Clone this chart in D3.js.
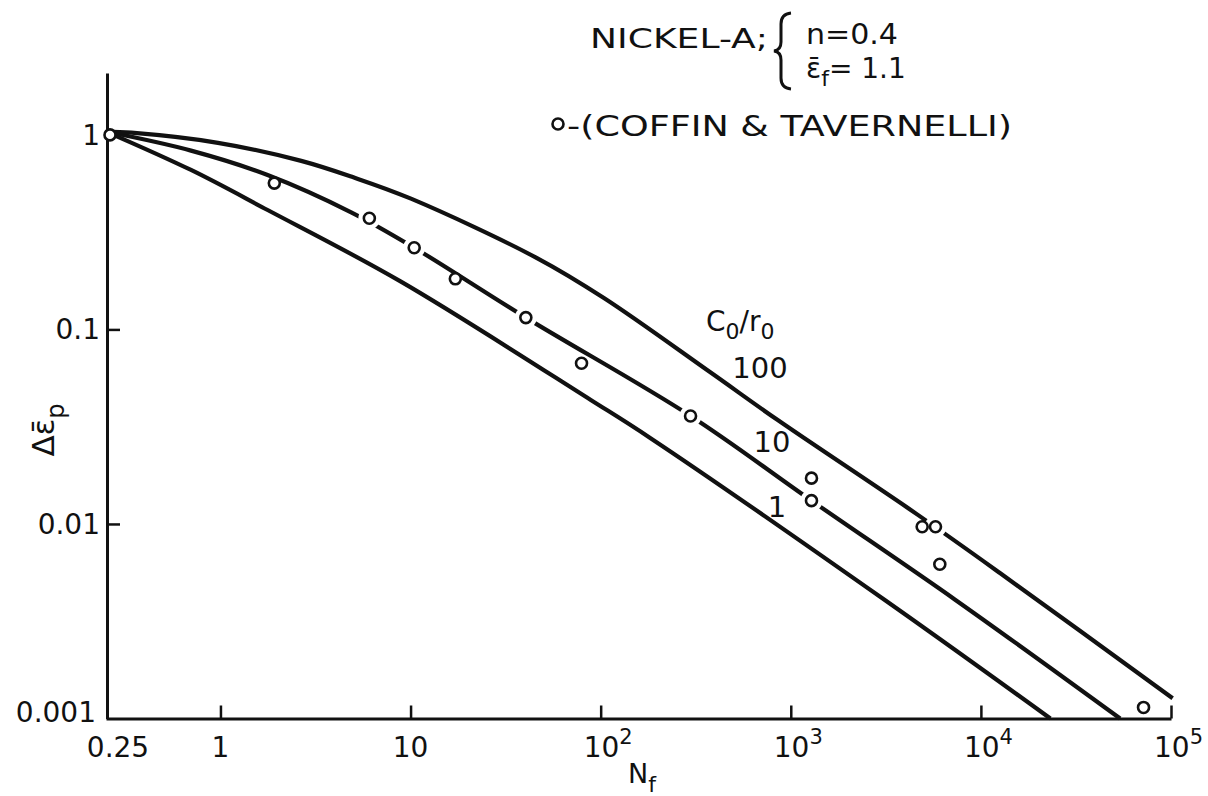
<!DOCTYPE html>
<html>
<head>
<meta charset="utf-8">
<script src="https://cdn.jsdelivr.net/npm/d3@7"></script>
<style>
  body { margin: 0; background: #fff; }
  text { font-family: "DejaVu Sans", sans-serif; fill: #111; }
</style>
</head>
<body>
<div id="chart"></div>
<script>
// chart values (N_f = cycles to failure, strain range)
var curve1N = [0.25, 0.70, 1.77, 8.9, 88.7, 183, 3083, 23200];
var curve1E = [1.04, 0.66, 0.411, 0.176, 0.0434, 0.0276, 0.0041, 0.001];

var curve10N = [0.25, 0.70, 1.77, 4.87, 10.45, 40.4, 297, 1285, 7350, 54000];
var curve10E = [1.04, 0.83, 0.622, 0.40, 0.263, 0.115, 0.0359, 0.01318, 0.00407, 0.001];

var curve100N = [0.25, 0.34, 0.97, 2.66, 5.0, 10.05, 46.5, 104, 379, 850, 4620, 12650, 102000];
var curve100E = [1.04, 1.026, 0.91, 0.735, 0.605, 0.47, 0.232, 0.145, 0.060, 0.0343, 0.0112, 0.00558, 0.00127];

var curveNames = ["1", "10", "100"];

// Coffin & Tavernelli test points
var dataN = [0.25, 1.92, 6.07, 10.45, 17.2, 40.4, 79.3, 297, 1285, 1285, 4910, 5770, 6080, 71700];
var dataE = [1.0, 0.565, 0.373, 0.263, 0.182, 0.115, 0.067, 0.0359, 0.0172, 0.01318, 0.00968, 0.00968, 0.00621, 0.00114];

var xTickValues = [0.25, 1, 10, 100, 1000, 10000, 100000];
var xTickBase = ["0.25", "1", "10", "10", "10", "10", "10"];
var xTickExp = ["", "", "", "2", "3", "4", "5"];
var yTickValues = [1, 0.1, 0.01, 0.001];
var yTickLabels = ["1", "0.1", "0.01", "0.001"];

var width = 1208;
var height = 796;

var svg = d3.select("#chart")
    .append("svg")
    .attr("width", width)
    .attr("height", height);

var xScale = d3.scaleLog().domain([0.25, 1e5]).range([106, 1171]);
var yScale = d3.scaleLog().domain([0.001, 2.08]).range([718.5, 73]);

// axes, ticks pointing inward
var xAxis = d3.axisBottom(xScale)
    .tickValues(xTickValues.slice(1))
    .tickSizeInner(-13)
    .tickSizeOuter(0)
    .tickFormat("");
var yAxis = d3.axisLeft(yScale)
    .tickValues(yTickValues.slice(0, 3))
    .tickSizeInner(-13)
    .tickSizeOuter(0)
    .tickFormat("");

var gx = svg.append("g")
    .attr("transform", "translate(0," + yScale(0.001) + ")")
    .call(xAxis);
var gy = svg.append("g")
    .attr("transform", "translate(" + (xScale(0.25) + 1) + ",0)")
    .call(yAxis);

[gx, gy].forEach(function(g) {
    g.select(".domain").attr("stroke", "#111").attr("stroke-width", 3);
    g.selectAll(".tick line").attr("stroke", "#111").attr("stroke-width", 2.5);
});

// x tick labels with superscript exponents
xTickValues.forEach(function(v, i) {
    var cx = xScale(v);
    if (i === 0) cx = 118;
    var t = svg.append("text")
        .attr("y", 757)
        .attr("font-size", 28)
        .text(xTickBase[i]);
    if (xTickExp[i]) {
        t.attr("x", cx - 17).attr("text-anchor", "start");
        t.append("tspan")
            .attr("dy", -13)
            .attr("font-size", 21)
            .text(xTickExp[i]);
    } else {
        t.attr("x", cx).attr("text-anchor", "middle");
    }
});

yTickValues.forEach(function(v, i) {
    svg.append("text")
        .attr("x", i === 3 ? 96 : 100)
        .attr("y", yScale(v) + (i === 3 ? -5 : 2))
        .attr("text-anchor", "end")
        .attr("dominant-baseline", "middle")
        .attr("font-size", 28)
        .text(yTickLabels[i]);
});

// axis titles
var nf = svg.append("text")
    .attr("x", 628)
    .attr("y", 783)
    .attr("font-size", 27)
    .text("N");
nf.append("tspan").attr("dy", 9).attr("font-size", 22).text("f");

var yl = svg.append("text")
    .attr("transform", "translate(54,430)rotate(-90)")
    .attr("text-anchor", "middle")
    .attr("font-size", 31)
    .text("Δε\u0304");
yl.append("tspan").attr("dy", 10).attr("font-size", 24).text("p");

// curves
var curves = [
    { n: curve1N, e: curve1E },
    { n: curve10N, e: curve10E },
    { n: curve100N, e: curve100E }
];

var line = d3.line()
    .x(function(d) { return xScale(d[0]); })
    .y(function(d) { return yScale(d[1]); })
    .curve(d3.curveCatmullRom.alpha(0.5));

var paths = curves.map(function(c) {
    var pts = c.n.map(function(v, i) { return [v, c.e[i]]; });
    return svg.append("path")
        .datum(pts)
        .attr("d", line)
        .attr("fill", "none")
        .attr("stroke", "#111")
        .attr("stroke-width", 4.2)
        .attr("stroke-linecap", "butt");
});

// the figure breaks a curve wherever a data circle sits on it
var points = dataN.map(function(v, i) { return [xScale(v), yScale(dataE[i])]; });
var onCurve = points.map(function(p) {
    var best = 1e9;
    paths.forEach(function(path) {
        var node = path.node();
        var len = node.getTotalLength();
        for (var s = 12; s < len; s += 1.5) {
            var q = node.getPointAtLength(s);
            var d = Math.hypot(q.x - p[0], q.y - p[1]);
            if (d < best) best = d;
        }
    });
    return best < 4;
});

svg.selectAll("circle.halo")
    .data(points.filter(function(p, i) { return onCurve[i]; }))
    .enter()
    .append("circle")
    .attr("class", "halo")
    .attr("cx", function(d) { return d[0]; })
    .attr("cy", function(d) { return d[1]; })
    .attr("r", 11)
    .attr("fill", "#fff");

svg.selectAll("circle.pt")
    .data(points)
    .enter()
    .append("circle")
    .attr("class", "pt")
    .attr("cx", function(d, i) { return i === 0 ? d[0] + 4 : d[0]; })
    .attr("cy", function(d) { return d[1]; })
    .attr("r", 5.5)
    .attr("fill", "#fff")
    .attr("stroke", "#111")
    .attr("stroke-width", 2.6);

// curve labels (C0/r0)
var head = svg.append("text")
    .attr("x", 706)
    .attr("y", 331)
    .attr("font-size", 28);
head.append("tspan").text("C");
head.append("tspan").attr("dy", 8).attr("font-size", 22).text("0");
head.append("tspan").attr("dy", -8).text("/r");
head.append("tspan").attr("dy", 8).attr("font-size", 22).text("0");

var labelPos = [[777, 517], [772, 452], [760, 378]];
curveNames.forEach(function(name, i) {
    svg.append("text")
        .attr("x", labelPos[i][0])
        .attr("y", labelPos[i][1])
        .attr("text-anchor", "middle")
        .attr("font-size", 29)
        .text(name);
});

// material note
svg.append("text")
    .attr("x", 590)
    .attr("y", 48)
    .attr("font-size", 26)
    .attr("textLength", 178)
    .attr("lengthAdjust", "spacingAndGlyphs")
    .text("NICKEL-A;");

var brace = d3.path();
brace.moveTo(791, 13);
brace.quadraticCurveTo(781, 14, 781, 24);
brace.lineTo(781, 42);
brace.quadraticCurveTo(781, 50, 774, 51);
brace.quadraticCurveTo(781, 52, 781, 60);
brace.lineTo(781, 78);
brace.quadraticCurveTo(781, 88, 791, 89);
svg.append("path")
    .attr("d", brace.toString())
    .attr("fill", "none")
    .attr("stroke", "#111")
    .attr("stroke-width", 3);

svg.append("text")
    .attr("x", 806)
    .attr("y", 44)
    .attr("font-size", 28)
    .attr("textLength", 92)
    .attr("lengthAdjust", "spacingAndGlyphs")
    .text("n=0.4");

var ef = svg.append("text")
    .attr("x", 806)
    .attr("y", 78)
    .attr("font-size", 28);
ef.append("tspan").text("ε\u0304");
ef.append("tspan").attr("dy", 8).attr("font-size", 22).text("f");
ef.append("tspan").attr("dy", -8).text("= 1.1");

svg.append("circle")
    .attr("cx", 558)
    .attr("cy", 124)
    .attr("r", 5.5)
    .attr("fill", "#fff")
    .attr("stroke", "#111")
    .attr("stroke-width", 2.6);

svg.append("text")
    .attr("x", 567)
    .attr("y", 136)
    .attr("font-size", 29)
    .attr("textLength", 445)
    .attr("lengthAdjust", "spacingAndGlyphs")
    .text("-(COFFIN & TAVERNELLI)");
</script>
</body>
</html>
